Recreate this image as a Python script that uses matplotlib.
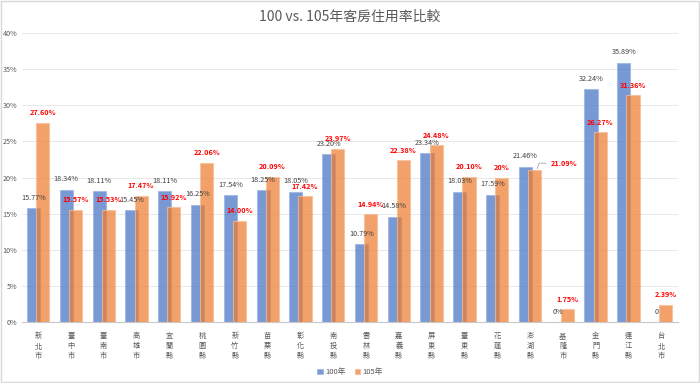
import matplotlib
matplotlib.use("Agg")
import numpy as np
import matplotlib.pyplot as plt
from matplotlib.patches import Rectangle

plt.rcParams['font.family'] = ['Noto Sans CJK TC', 'DejaVu Sans']

# data
counties = ["新北市", "臺中市", "臺南市", "高雄市", "宜蘭縣", "桃園縣", "新竹縣", "苗栗縣",
            "彰化縣", "南投縣", "雲林縣", "嘉義縣", "屏東縣", "臺東縣", "花蓮縣", "澎湖縣",
            "基隆市", "金門縣", "連江縣", "台北市"]
rate_100 = [15.77, 18.34, 18.11, 15.45, 18.11, 16.25, 17.54, 18.25, 18.05, 23.20,
            10.79, 14.58, 23.34, 18.03, 17.59, 21.46, 0, 32.24, 35.89, 0]
rate_105 = [27.60, 15.57, 15.53, 17.47, 15.92, 22.06, 14.00, 20.09, 17.42, 23.97,
            14.94, 22.38, 24.48, 20.10, 20.0, 21.09, 1.75, 26.27, 31.36, 2.39]
labels_100 = ["15.77%", "18.34%", "18.11%", "15.45%", "18.11%", "16.25%", "17.54%", "18.25%",
              "18.05%", "23.20%", "10.79%", "14.58%", "23.34%", "18.03%", "17.59%", "21.46%",
              "0%", "32.24%", "35.89%", "0"]
labels_105 = ["27.60%", "15.57%", "15.53%", "17.47%", "15.92%", "22.06%", "14.00%", "20.09%",
              "17.42%", "23.97%", "14.94%", "22.38%", "24.48%", "20.10%", "20%", "21.09%",
              "1.75%", "26.27%", "31.36%", "2.39%"]

blue = "#4472C4"
orange = "#ED7D31"

fig = plt.figure(figsize=(7, 3.83), dpi=100)
ax = fig.add_axes([0.031, 0.159, 0.937, 0.755])

x = np.arange(len(counties))
w = 0.40
ax.bar(x - 0.14, rate_100, w, color=blue, alpha=0.72, edgecolor="#9DB4E0", linewidth=0.8,
       label="100年", zorder=2)
ax.bar(x + 0.14, rate_105, w, color=orange, alpha=0.72, edgecolor="#F5BE98", linewidth=0.8,
       label="105年", zorder=3)

for i in range(len(counties)):
    ax.text(x[i] - 0.14, rate_100[i] + 0.9, labels_100[i], ha="center", va="bottom",
            fontsize=5.2, color="#404040", zorder=5)
    if labels_105[i] == "21.09%":
        ax.annotate(labels_105[i], xy=(x[i] + 0.22, rate_105[i] + 0.15),
                    xytext=(x[i] + 0.62, rate_105[i] + 0.9), ha="left", va="center",
                    fontsize=5.2, color="#FF0000", fontweight="bold", zorder=5,
                    arrowprops=dict(arrowstyle="-", color="#A6A6A6", lw=0.6,
                                    shrinkA=1, shrinkB=0,
                                    connectionstyle="angle,angleA=0,angleB=70"))
    else:
        ax.text(x[i] + 0.14, rate_105[i] + 0.9, labels_105[i], ha="center", va="bottom",
                fontsize=5.2, color="#FF0000", fontweight="bold", zorder=5)

ax.set_xlim(-0.5, 19.5)
ax.set_ylim(0, 40)
ax.set_yticks(range(0, 41, 5))
ax.set_yticklabels([f"{v}%" for v in range(0, 41, 5)])
ax.set_xticks(x)
ax.set_xticklabels(["\n".join(c) for c in counties], linespacing=1.35)
ax.tick_params(axis="both", length=0, labelsize=5.2, colors="#595959")
ax.tick_params(axis="x", pad=7)
ax.tick_params(axis="y", pad=3)
ax.grid(axis="y", color="#E8E8E8", linewidth=0.7, zorder=0)
for s in ["top", "right", "left"]:
    ax.spines[s].set_visible(False)
ax.spines["bottom"].set_color("#C8C8C8")

fig.suptitle("100 vs. 105年客房住用率比較", y=0.975, fontsize=10, color="#595959")

fig.legend(loc="lower center", bbox_to_anchor=(0.5, 0.0), ncol=2, frameon=False,
           fontsize=5.5, handlelength=0.7, handleheight=0.7, columnspacing=1.2,
           handletextpad=0.3, labelcolor="#595959")

fig.patches.append(Rectangle((0.002, 0.003), 0.996, 0.994, transform=fig.transFigure,
                             fill=False, edgecolor="#D9D9D9", linewidth=1))

fig.savefig("out.png", dpi=100)
